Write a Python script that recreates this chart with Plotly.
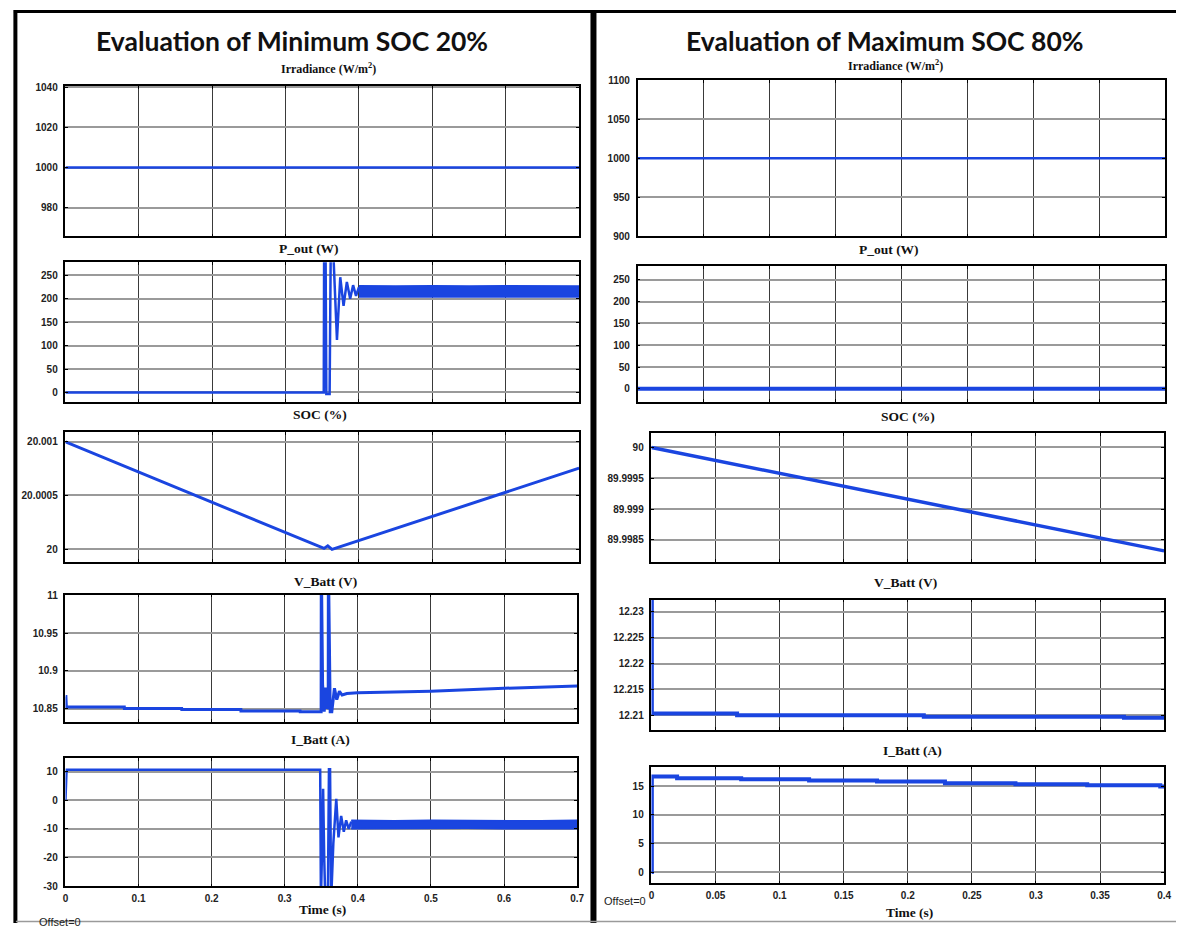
import plotly.graph_objects as go

W, H = 1183, 928
BLUE = '#1a45e0'

# ======================= DATA: left panel (minimum SOC 20 %) =======================
irr_t_L = [0.0, 0.7]
irr_L = [1000, 1000]

pout_t_L = [0.0, 0.352, 0.3525, 0.3545, 0.3555, 0.3600, 0.3615, 0.3650, 0.3700, 0.3745,
            0.3790, 0.3835, 0.3880, 0.3920, 0.3960, 0.4000]
pout_L = [0, 0, 300, 300, -3, -3, 300, 300, 112, 246, 185, 236, 200, 229, 206, 225]
pout_band_t_L = [0.400, 0.45, 0.50, 0.55, 0.60, 0.65, 0.70]
pout_hi_L = [228, 227, 228, 227, 228, 227, 227]
pout_lo_L = [204, 204, 203, 204, 203, 204, 204]

soc_t_L = [0.0, 0.3524, 0.3575, 0.3633, 0.7]
soc_L = [20.001, 20.000006, 20.00003, 19.999997, 20.000755]

vb_t_L = [0.0, 0.0006, 0.0012, 0.0805, 0.0806, 0.159, 0.1591, 0.240, 0.2401, 0.321, 0.3211,
          0.3498, 0.3500, 0.3518, 0.3540, 0.3560, 0.3580, 0.3595, 0.3597, 0.3622, 0.3644,
          0.3680, 0.3712, 0.3748, 0.3785, 0.385, 0.40, 0.50, 0.60, 0.70]
vb_L = [10.866, 10.866, 10.852, 10.852, 10.850, 10.850, 10.849, 10.849, 10.847, 10.847, 10.846,
        10.846, 11.05, 10.882, 10.846, 10.878, 10.850, 10.852, 11.05, 10.846, 10.846,
        10.877, 10.862, 10.873, 10.868, 10.870, 10.871, 10.873, 10.877, 10.880]

ib_t_L = [0.0, 0.0015, 0.3485, 0.3495, 0.3510, 0.3525, 0.3540, 0.3555, 0.3590, 0.3605,
          0.3620, 0.3635, 0.3665, 0.3705, 0.3735, 0.3772, 0.3808, 0.3840, 0.3875, 0.3910]
ib_L = [0.0, 10.6, 10.6, -35, -18, 4, -20, -35, -35, 10.8, 10.8, -35, -15, 0.5, -13, -5.5,
        -11, -7, -10, -7.5]
ib_band_t_L = [0.391, 0.45, 0.50, 0.55, 0.60, 0.65, 0.70]
ib_hi_L = [-7.0, -7.2, -7.0, -7.1, -7.0, -7.2, -7.0]
ib_lo_L = [-10.0, -9.9, -10.0, -9.8, -10.0, -9.9, -10.0]

# ======================= DATA: right panel (maximum SOC 80 %) =======================
irr_t_R = [0.0, 0.4]
irr_R = [1000, 1000]

pout_t_R = [0.0, 0.4]
pout_R = [0, 0]

soc_t_R = [0.0, 0.4]
soc_R = [90.0, 89.99832]

vb_t_R = [0.0, 0.0003, 0.0668, 0.2125, 0.3687, 0.4]
vb_R = [12.234, 12.2103, 12.2100, 12.2097, 12.2095, 12.2095]

ib_t_R = [0.0, 0.0003, 0.020, 0.070, 0.123, 0.176, 0.229, 0.284, 0.340, 0.397, 0.4]
ib_R = [0.0, 16.73, 16.44, 16.27, 16.04, 15.87, 15.58, 15.40, 15.23, 15.0, 15.0]

# ======================= ticks =======================
xt_L = [0, 0.1, 0.2, 0.3, 0.4, 0.5, 0.6, 0.7]
xt_R = [0, 0.05, 0.1, 0.15, 0.2, 0.25, 0.3, 0.35, 0.4]

yt_irr_L = [980, 1000, 1020, 1040]
yt_pout = [0, 50, 100, 150, 200, 250]
yt_soc_L = [20, 20.0005, 20.001]
yl_soc_L = ['20', '20.0005', '20.001']
yt_vb_L = [10.85, 10.9, 10.95, 11]
yl_vb_L = ['10.85', '10.9', '10.95', '11']
yt_ib_L = [-30, -20, -10, 0, 10]
yl_ib_L = ['-30', '-20', '-10', '0', '10']

yt_irr_R = [900, 950, 1000, 1050, 1100]
yt_soc_R = [89.9985, 89.999, 89.9995, 90]
yl_soc_R = ['89.9985', '89.999', '89.9995', '90']
yt_vb_R = [12.21, 12.215, 12.22, 12.225, 12.23]
yl_vb_R = ['12.21', '12.215', '12.22', '12.225', '12.23']
yt_ib_R = [0, 5, 10, 15]

# ======================= layout helpers =======================
def px(x):
    return x / W


def py(y):
    return 1 - y / H


fig = go.Figure()

# box = (x0, y0, x1, y1) in pixels
subplots = [
    # left
    dict(box=(63, 82, 581, 234), yr=[965.7, 1040.5], yt=yt_irr_L, yl=[str(v) for v in yt_irr_L], xr=[0, 0.7], xt=xt_L, xl=False),
    dict(box=(63, 260, 581, 401), yr=[-19.6, 278], yt=yt_pout, yl=[str(v) for v in yt_pout], xr=[0, 0.7], xt=xt_L, xl=False),
    dict(box=(63, 432, 581, 563), yr=[19.99988, 20.001089], yt=yt_soc_L, yl=yl_soc_L, xr=[0, 0.7], xt=xt_L, xl=False),
    dict(box=(63, 596, 579, 725), yr=[10.832, 11.0013], yt=yt_vb_L, yl=yl_vb_L, xr=[0, 0.7], xt=xt_L, xl=False),
    dict(box=(63, 761, 579, 891), yr=[-30.1, 14.8], yt=yt_ib_L, yl=yl_ib_L, xr=[0, 0.7], xt=xt_L, xl=True),
    # right
    dict(box=(640, 76, 1172, 234), yr=[899.5, 1100.5], yt=yt_irr_R, yl=[str(v) for v in yt_irr_R], xr=[0, 0.4], xt=xt_R, xl=False),
    dict(box=(640, 264, 1172, 401), yr=[-29.4, 281], yt=yt_pout, yl=[str(v) for v in yt_pout], xr=[0, 0.4], xt=xt_R, xl=False),
    dict(box=(654, 433, 1171, 563), yr=[89.99814, 90.00023], yt=yt_soc_R, yl=yl_soc_R, xr=[0, 0.4], xt=xt_R, xl=False),
    dict(box=(654, 601, 1171, 733), yr=[12.2071, 12.2324], yt=yt_vb_R, yl=yl_vb_R, xr=[0, 0.4], xt=xt_R, xl=False),
    dict(box=(654, 770, 1171, 888), yr=[-2.0, 18.46], yt=yt_ib_R, yl=[str(v) for v in yt_ib_R], xr=[0, 0.4], xt=xt_R, xl=True),
]

tickfont = dict(family='Liberation Sans, Arial, sans-serif', size=10, color='#222222', weight='bold')

for i, sp in enumerate(subplots):
    n = '' if i == 0 else str(i + 1)
    x0, y0, x1, y1 = sp['box']
    fig.layout['xaxis' + n] = dict(
        domain=[px(x0), px(x1)], range=sp['xr'], anchor='y' + n,
        tickvals=sp['xt'], ticktext=[('%g' % v) for v in sp['xt']],
        showticklabels=sp['xl'], tickfont=tickfont, ticklabelstandoff=2,
        showgrid=True, gridcolor='#3a3a3a', gridwidth=1,
        showline=True, linecolor='black', linewidth=1.5, mirror='ticks',
        ticks='inside', ticklen=3, tickcolor='black', zeroline=False,
        fixedrange=True,
    )
    fig.layout['yaxis' + n] = dict(
        domain=[py(y1), py(y0)], range=sp['yr'], anchor='x' + n,
        tickvals=sp['yt'], ticktext=sp['yl'], tickfont=tickfont, ticklabelstandoff=4,
        showgrid=True, gridcolor='#9a9a9a', gridwidth=1.5,
        showline=True, linecolor='black', linewidth=1.5, mirror='ticks',
        ticks='inside', ticklen=3, tickcolor='black', zeroline=False,
        fixedrange=True,
    )


def add_line(t, v, idx, width=2.5, shape='linear'):
    n = '' if idx == 0 else str(idx + 1)
    fig.add_trace(go.Scatter(x=t, y=v, mode='lines', xaxis='x' + n, yaxis='y' + n,
                             line=dict(color=BLUE, width=width, shape=shape), hoverinfo='skip'))


def add_band(t, lo, hi, idx):
    n = '' if idx == 0 else str(idx + 1)
    fig.add_trace(go.Scatter(x=t, y=lo, mode='lines', xaxis='x' + n, yaxis='y' + n,
                             line=dict(color=BLUE, width=1.5), hoverinfo='skip'))
    fig.add_trace(go.Scatter(x=t, y=hi, mode='lines', xaxis='x' + n, yaxis='y' + n,
                             line=dict(color=BLUE, width=1.5), fill='tonexty',
                             fillcolor=BLUE, hoverinfo='skip'))


# left traces
add_line(irr_t_L, irr_L, 0, width=2.5)
add_line(pout_t_L, pout_L, 1, width=2.5)
add_band(pout_band_t_L, pout_lo_L, pout_hi_L, 1)
add_line(soc_t_L, soc_L, 2, width=3)
add_line(vb_t_L, vb_L, 3, width=3)
add_line(ib_t_L, ib_L, 4, width=2.5)
add_band(ib_band_t_L, ib_lo_L, ib_hi_L, 4)
# right traces
add_line(irr_t_R, irr_R, 5, width=2.5)
add_line(pout_t_R, pout_R, 6, width=4)
add_line(soc_t_R, soc_R, 7, width=3.5)
add_line(vb_t_R, vb_R, 8, width=4, shape='hv')
add_line(ib_t_R, ib_R, 9, width=4, shape='hv')

# ======================= annotations =======================
ann = []
title_font = dict(family='Lato, Open Sans, sans-serif', size=26.5, color='#111111', weight='bold')
ann.append(dict(text='Evaluation of Minimum SOC 20%', x=px(291), y=py(36), font=title_font))
ann.append(dict(text='Evaluation of Maximum SOC 80%', x=px(890), y=py(36), font=title_font))

sub_font = dict(family='Liberation Serif, Times New Roman, serif', size=13.5, color='#111111', weight='bold')
irr_font = dict(family='Liberation Serif, Times New Roman, serif', size=12, color='#111111', weight='bold')
subs = [
    ('Irradiance (W/m<sup>2</sup>)', 328, 64, irr_font),
    ('P_out (W)', 309, 246, sub_font),
    ('SOC (%)', 320, 414, sub_font),
    ('V_Batt (V)', 325, 583, sub_font),
    ('I_Batt (A)', 320, 742, sub_font),
    ('Irradiance (W/m<sup>2</sup>)', 900, 61, irr_font),
    ('P_out (W)', 894, 247, sub_font),
    ('SOC (%)', 913, 416, sub_font),
    ('V_Batt (V)', 910, 584, sub_font),
    ('I_Batt (A)', 917, 754, sub_font),
    ('Time (s)', 322, 914, sub_font),
    ('Time (s)', 914, 917, sub_font),
]
for txt, x, y, f in subs:
    ann.append(dict(text=txt, x=px(x), y=py(y), font=f))

off_font = dict(family='Liberation Sans, Arial, sans-serif', size=11, color='#222222')
ann.append(dict(text='Offset=0', x=px(57), y=py(927), font=off_font))
ann.append(dict(text='Offset=0', x=px(627), y=py(906), font=off_font))

for a in ann:
    a.update(xref='paper', yref='paper', showarrow=False, xanchor='center', yanchor='middle')
fig.update_layout(annotations=ann)

# ======================= frame lines =======================
shapes = [
    dict(type='line', x0=px(11), x1=px(1183), y0=py(6.5), y1=py(6.5), line=dict(color='black', width=3)),
    dict(type='line', x0=px(12.5), x1=px(12.5), y0=py(5), y1=py(928), line=dict(color='black', width=4)),
    dict(type='line', x0=px(595.5), x1=px(595.5), y0=py(5), y1=py(928), line=dict(color='black', width=6)),
    dict(type='line', x0=px(13), x1=px(1183), y0=py(926.5), y1=py(926.5), line=dict(color='#9a9a9a', width=1.5)),
]
for s in shapes:
    s.update(xref='paper', yref='paper', layer='above')
fig.update_layout(shapes=shapes)

fig.update_layout(width=W, height=H, margin=dict(l=0, r=0, t=0, b=0), autosize=False,
                  plot_bgcolor='white', paper_bgcolor='white', showlegend=False)

fig.write_html('out.html', config={'displayModeBar': False},
               post_script="document.body.style.margin='0';")
